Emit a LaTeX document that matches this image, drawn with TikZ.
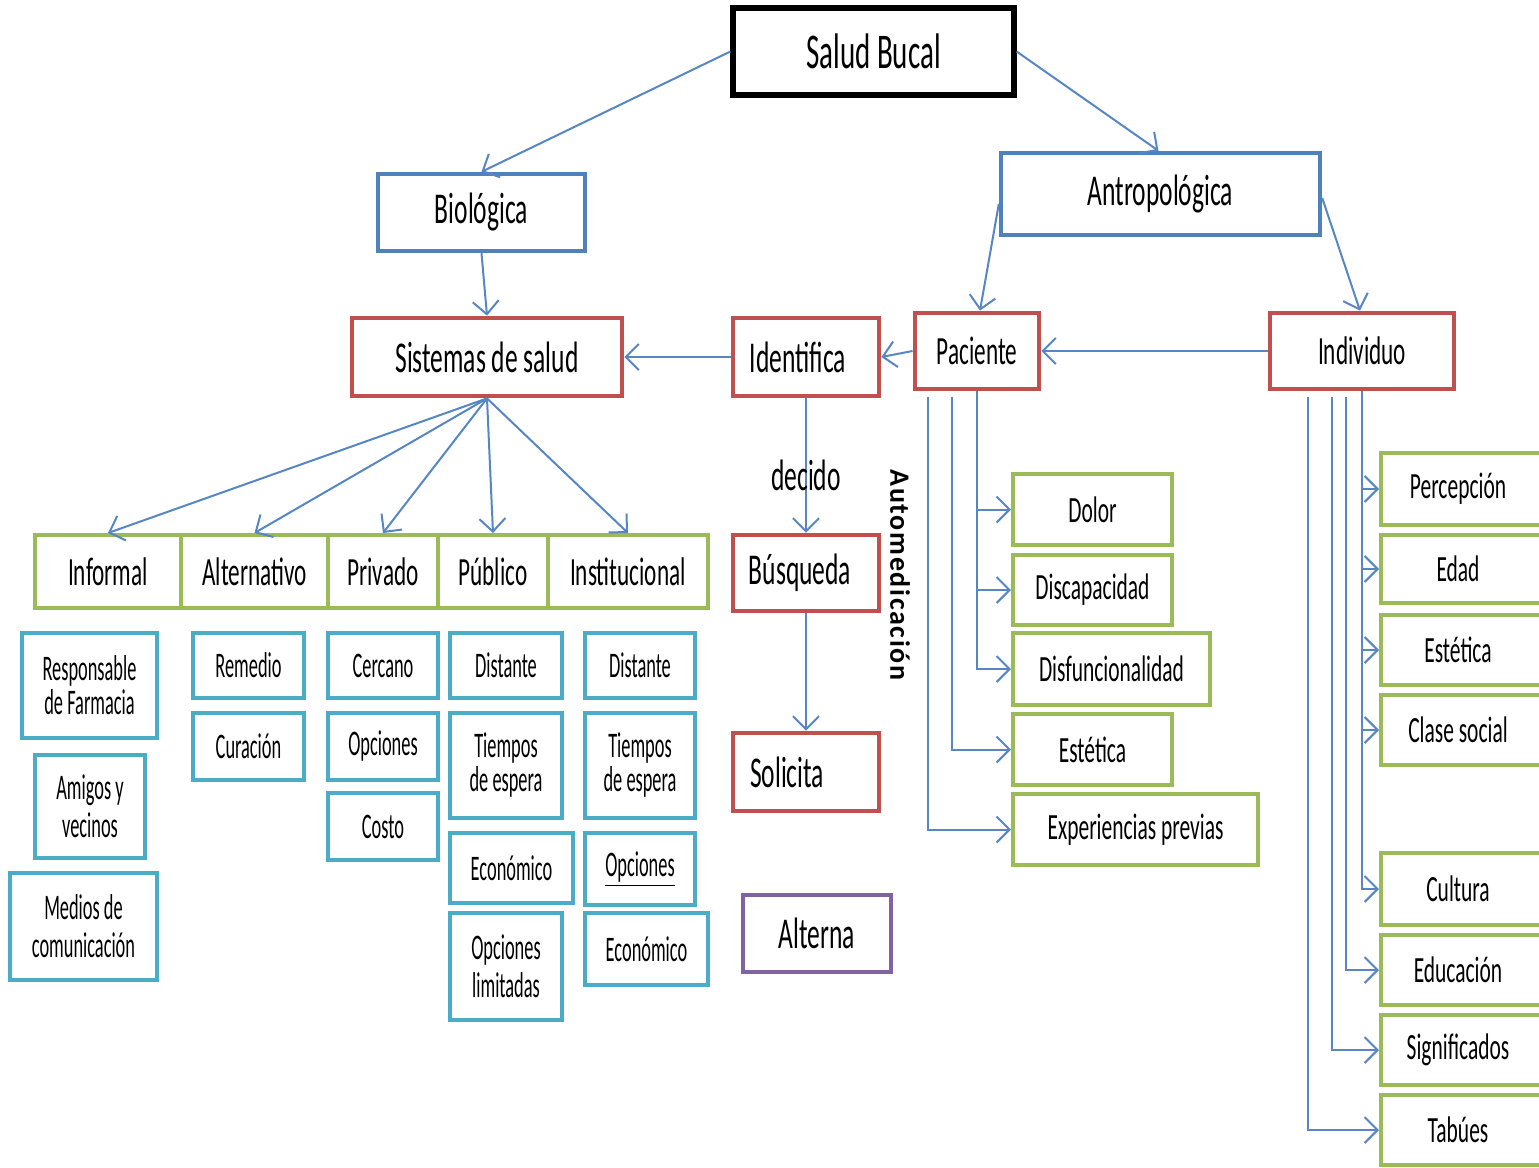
\documentclass[tikz,border=0pt]{standalone}
\usepackage{fontspec}
\setmainfont{Carlito}[FakeStretch=0.58]
\newfontfamily\narrowface{Carlito}[FakeStretch=0.51]
\newfontfamily\sideface{Carlito}[LetterSpace=6]
\usetikzlibrary{arrows.meta}
\definecolor{linkblue}{RGB}{86,134,196}
\definecolor{boxred}{RGB}{192,80,77}
\definecolor{boxgreen}{RGB}{155,187,89}
\definecolor{boxblue}{RGB}{79,129,189}
\definecolor{boxcyan}{RGB}{75,172,198}
\definecolor{boxpurple}{RGB}{128,100,162}
\tikzset{
  sz/.style 2 args = {minimum width=#1*0.5pt, minimum height=#2*0.5pt},
  box/.style = {draw, fill=white, inner sep=0pt, align=center},
  rootbox/.style = {box, draw=black, line width=2.6pt, font=\fontsize{25}{28}\selectfont},
  bluebox/.style = {box, draw=boxblue, line width=2.2pt, font=\fontsize{22}{25}\selectfont},
  redbox/.style = {box, draw=boxred, line width=2.4pt, font=\fontsize{22}{25}\selectfont},
  smallred/.style = {redbox, font=\fontsize{20}{23}\selectfont},
  rowbox/.style = {box, draw=boxgreen, line width=2pt, font=\fontsize{20}{23}\selectfont},
  greenbox/.style = {box, draw=boxgreen, line width=2pt, font=\fontsize{18.5}{21}\selectfont},
  cyanbox/.style = {box, draw=boxcyan, line width=2pt, font=\narrowface\fontsize{18}{19}\selectfont},
  purplebox/.style = {box, draw=boxpurple, line width=2.2pt, font=\fontsize{22}{25}\selectfont},
  link/.style = {draw=linkblue, line width=1pt, -{Straight Barb[length=6.5pt,width=13pt]}},
  lbl/.style = {font=\fontsize{22}{25}\selectfont, inner sep=0pt}
}
\begin{document}
\begin{tikzpicture}[x=0.5pt,y=-0.5pt]
\useasboundingbox (0,0) rectangle (1539,1168);
% top levels
\node[rootbox, sz={281}{87}] (sb) at (873.5,51.5) {Salud Bucal};
\node[bluebox, sz={207}{77}] (bio) at (481.5,212.5) {Biológica};
\node[bluebox, sz={319}{82}] (ant) at (1160.5,194) {Antropológica};
\node[redbox, sz={270}{78}] (sis) at (487,357) {Sistemas de salud};
\node[redbox, sz={146}{78}] (ide) at (806,357) {Identifica\hspace{8pt}};
\node[smallred, sz={124}{76}] (pac) at (977,351) {Paciente};
\node[smallred, sz={184}{76}] (ind) at (1362,351) {Individuo};
% systems row
\node[rowbox, sz={146}{73}] (inf) at (108,571.5) {Informal};
\node[rowbox, sz={147}{73}] (alt) at (254.5,571.5) {Alternativo};
\node[rowbox, sz={110}{73}] (pri) at (383,571.5) {Privado};
\node[rowbox, sz={110}{73}] (pub) at (493,571.5) {Público};
\node[rowbox, sz={160}{73}] (ins) at (628,571.5) {Institucional};
% middle column
\node[redbox, sz={146}{76}] (bus) at (806,573) {Búsqueda\hspace{6pt}};
\node[redbox, sz={146}{78}] (sol) at (806,772) {Solicita\hspace{19pt}};
\node[purplebox, sz={148}{77}] (alterna) at (817,933.5) {Alterna};
\node[font=\sideface\bfseries\fontsize{14}{16}\selectfont, rotate=-90, inner sep=0pt] (auto) at (900,575) {Automedicación};
% details of each system
\node[cyanbox, sz={135}{105}] (farm) at (89.5,685.5) {Responsable\\[-2pt]de Farmacia};
\node[cyanbox, sz={110}{103}] (amig) at (90,806.5) {Amigos y\\vecinos};
\node[cyanbox, sz={147}{107}] (medi) at (83.5,926.5) {Medios de\\comunicación};
\node[cyanbox, sz={111}{65}] (reme) at (248.5,665.5) {Remedio};
\node[cyanbox, sz={111}{67}] (cura) at (248.5,746.5) {Curación};
\node[cyanbox, sz={110}{65}] (cerc) at (383,665.5) {Cercano};
\node[cyanbox, sz={110}{67}] (opcp) at (383,746.5) {Opciones};
\node[cyanbox, sz={110}{67}] (cost) at (383,826.5) {Costo};
\node[cyanbox, sz={112}{65}] (dista) at (506,665.5) {Distante};
\node[cyanbox, sz={112}{105}] (tiema) at (506,765.5) {Tiempos\\[-2pt]de espera};
\node[cyanbox, sz={123}{70}] (econa) at (511.5,868) {Económico};
\node[cyanbox, sz={112}{107}] (opcl) at (506,966.5) {Opciones\\limitadas};
\node[cyanbox, sz={110}{65}] (distb) at (640,665.5) {Distante};
\node[cyanbox, sz={110}{105}] (tiemb) at (640,765.5) {Tiempos\\[-2pt]de espera};
\node[cyanbox, sz={110}{72}] (opci) at (640,869) {\underline{Opciones}};
\node[cyanbox, sz={123}{72}] (econb) at (646.5,949) {Económico};
% patient factors
\node[greenbox, sz={159}{71}] (dol) at (1092.5,509.5) {Dolor};
\node[greenbox, sz={159}{70}] (disc) at (1092.5,590) {Discapacidad};
\node[greenbox, sz={197}{72}] (disf) at (1111.5,669) {Disfuncionalidad};
\node[greenbox, sz={159}{71}] (este) at (1092.5,749.5) {Estética};
\node[greenbox, sz={245}{71}] (expe) at (1135.5,829.5) {Experiencias previas};
% individual factors
\node[greenbox, sz={164}{72}] (perc) at (1463,489) {Percepción\hspace{5pt}};
\node[greenbox, sz={164}{68}] (edad) at (1463,569) {Edad\hspace{5pt}};
\node[greenbox, sz={164}{70}] (estb) at (1463,650) {Estética\hspace{5pt}};
\node[greenbox, sz={164}{70}] (clas) at (1463,730) {Clase social\hspace{5pt}};
\node[greenbox, sz={164}{72}] (cult) at (1463,889) {Cultura\hspace{5pt}};
\node[greenbox, sz={164}{70}] (educ) at (1463,970) {Educación\hspace{5pt}};
\node[greenbox, sz={164}{70}] (sign) at (1463,1050) {Significados\hspace{5pt}};
\node[greenbox, sz={164}{70}] (tabu) at (1463,1130) {Tabúes\hspace{5pt}};
% connectors
\draw[link] (sb.west) -- (bio.north);
\draw[link] (sb.east) -- ([xshift=-1pt]ant.north);
\draw[link] (bio.south) -- (sis.north);
\draw[link] ([yshift=-5pt]ant.west) -- ([xshift=1.5pt]pac.north);
\draw[link] ([yshift=-2pt]ant.east) -- ([xshift=-1pt]ind.north);
\draw[link] (ind.west) -- (pac.east);
\draw[link] (pac.west) -- (ide.east);
\draw[link] (ide.west) -- (sis.east);
\foreach \t in {inf,alt,pri,pub,ins}
  \draw[link] (sis.south) -- (\t.north);
\draw[link] (ide.south) -- node[lbl, pos=0.57] {decido} (bus.north);
\draw[link] (bus.south) -- (sol.north);
\foreach \t in {dol,disc,disf}
  \draw[link] (pac.south) |- (\t.west);
\draw[link] ([xshift=-12.5pt,yshift=-3pt]pac.south) |- (este.west);
\draw[link] ([xshift=-24.5pt,yshift=-3pt]pac.south) |- (expe.west);
\foreach \t in {perc,edad,estb,clas,cult}
  \draw[link] (ind.south) |- (\t.west);
\draw[link] ([xshift=-8pt,yshift=-3pt]ind.south) |- (educ.west);
\draw[link] ([xshift=-15pt,yshift=-3pt]ind.south) |- (sign.west);
\draw[link] ([xshift=-27pt,yshift=-3pt]ind.south) |- (tabu.west);
\end{tikzpicture}
\end{document}
